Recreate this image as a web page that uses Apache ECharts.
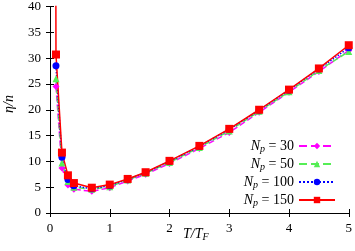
<!DOCTYPE html>
<html><head><meta charset="utf-8">
<script src="https://cdn.jsdelivr.net/npm/echarts@6/dist/echarts.min.js"></script>
<style>html,body{margin:0;padding:0;background:#fff}#c{width:355px;height:251px}</style>
</head><body><div id="c"></div>
<script>
const xTicks = [0,1,2,3,4,5];
const yTicks = [0,5,10,15,20,25,30,35,40];
const names = ['30','50','100','150'];
const xs = [0.1,0.2,0.3,0.4,0.7,1.0,1.3,1.6,2.0,2.5,3.0,3.5,4.0,4.5,5.0];
const np30  = [24.5,8.7,5.4,4.6,4.2,4.9,6.2,7.5,9.6,12.5,15.6,19.5,23.4,27.4,31.5];
const np50  = [26.0,9.7,6.1,5.0,4.6,5.1,6.4,7.7,9.8,12.7,15.9,19.7,23.5,27.6,31.3];
const np100 = [28.5,10.8,6.5,5.3,4.7,5.3,6.5,7.8,10.0,12.9,16.2,19.9,23.8,27.9,32.0];
const np150 = [30.7,11.7,7.3,5.8,4.9,5.5,6.6,7.9,10.1,13.0,16.3,20.0,23.9,28.0,32.5];
const np150Lead = [[0.09,90]];

const pair = (v)=>xs.map((x,i)=>[x,v[i]]);
const font = 'Liberation Serif';
const chart = echarts.init(document.getElementById('c'));
const styles = [
  {color:'#ff00ff', type:'dashed', symbol:'diamond', size:7},
  {color:'#55ee55', type:'dashed', symbol:'triangle', size:7},
  {color:'#0000ff', type:'dotted', symbol:'circle', size:7},
  {color:'#ff0000', type:'solid', symbol:'rect', size:8}
];
const datas = [pair(np30), pair(np50), pair(np100), np150Lead.concat(pair(np150))];
const series = names.map((n,i)=>({
  name:n, type:'line', data:datas[i], clip:true,
  symbol:styles[i].symbol, symbolSize:styles[i].size,
  showAllSymbol:true,
  lineStyle:{color:styles[i].color, type:styles[i].type, width:1.5},
  itemStyle:{color:styles[i].color},
  animation:false
}));
const axisCommon = {
  axisLine:{show:true, lineStyle:{color:'#000', width:1}},
  axisTick:{show:true, inside:true, length:4, lineStyle:{color:'#000'}},
  splitLine:{show:false}
};
chart.setOption({
  animation:false,
  grid:{left:50, right:5, top:5, bottom:38},
  xAxis:[
    Object.assign({type:'value', min:0, max:5, interval:1, position:'bottom',
      axisLabel:{fontFamily:font, fontSize:13, color:'#000', margin:9}}, axisCommon),
    Object.assign({type:'value', min:0, max:5, interval:1, position:'top',
      axisLabel:{show:false}}, axisCommon)
  ],
  yAxis:[
    Object.assign({type:'value', min:0, max:40, interval:5, position:'left',
      axisLabel:{fontFamily:font, fontSize:13, color:'#000', margin:9}}, axisCommon),
    Object.assign({type:'value', min:0, max:40, interval:5, position:'right',
      axisLabel:{show:false}}, axisCommon)
  ],
  legend:{
    orient:'vertical', right:14, top:134, align:'right', itemGap:3,
    itemWidth:36, itemHeight:8,
    data:names,
    formatter:(n)=>'{i|N}{s|p}{t| = '+n+'}',
    textStyle:{fontFamily:font, fontSize:13, color:'#000',
      rich:{
        i:{fontFamily:font, fontStyle:'italic', fontSize:14, color:'#000'},
        s:{fontFamily:font, fontStyle:'italic', fontSize:10, color:'#000', verticalAlign:'bottom', padding:[6,0,0,0]},
        t:{fontFamily:font, fontSize:14, color:'#000'}
      }}
  },
  graphic:[
    {type:'text', left:183, top:227, style:{
      text:'{i|T/T}{s|F}', fontFamily:font,
      rich:{i:{fontFamily:font, fontStyle:'italic', fontSize:14, fill:'#000'},
            s:{fontFamily:font, fontStyle:'italic', fontSize:10, fill:'#000', padding:[7,0,0,0]}}}},
    {type:'text', x:9, y:104, rotation:Math.PI/2, style:{
      text:'η/n', fontFamily:font, fontStyle:'italic', fontSize:14, fill:'#000', align:'center', verticalAlign:'middle'}}
  ],
  series:series
});
</script></body></html>
